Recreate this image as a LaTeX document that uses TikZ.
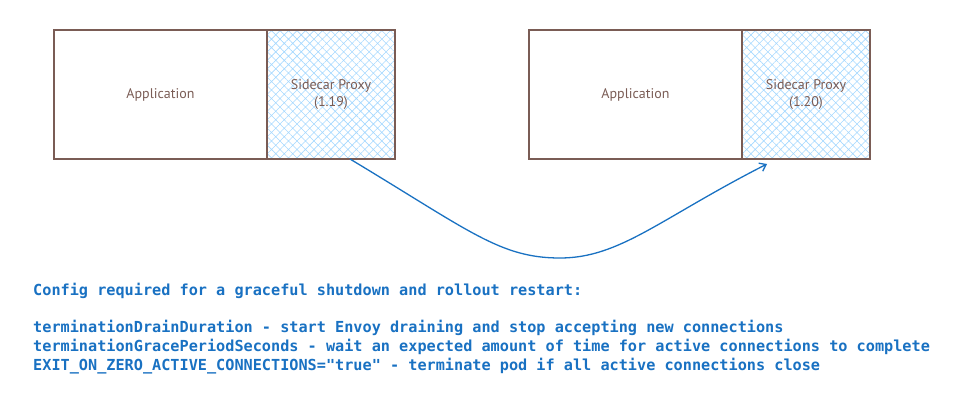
\documentclass[tikz,border=0pt]{standalone}
\usepackage{fontspec}
\setmainfont{PT Sans}
\newfontfamily\codefont{DejaVu Sans Mono}
\usetikzlibrary{positioning,patterns.meta,arrows.meta}
\definecolor{boxbrown}{HTML}{7A5C55}
\definecolor{hatchblue}{HTML}{A5D8FF}
\definecolor{codeblue}{HTML}{1971C2}
\tikzset{
  podbox/.style={draw=boxbrown, line width=1.2pt, outer sep=0pt, text=boxbrown,
    font=\fontsize{14}{17}\selectfont, align=center, minimum height=129pt},
  appbox/.style={podbox, minimum width=213pt},
  proxybox/.style={podbox, minimum width=128pt,
    pattern={Hatch[angle=45,distance=6pt,line width=0.6pt]}, pattern color=hatchblue},
  upgrade/.style={draw=codeblue, line width=1.3pt, -{Straight Barb[length=6pt,width=9pt]}}
}
\begin{document}
\begin{tikzpicture}[x=1pt,y=-1pt]
% Fix the page to the size of the reference
\useasboundingbox (0,0) rectangle (953,404);
% Old pod: application with the 1.19 sidecar
\node[appbox] (app1) at (160.5,94.5) {Application};
\node[proxybox, right=0pt of app1] (proxy1) {Sidecar Proxy\\(1.19)};
% New pod: application with the 1.20 sidecar
\node[appbox] (app2) at (635.5,94.5) {Application};
\node[proxybox, right=0pt of app2] (proxy2) {Sidecar Proxy\\(1.20)};
% Draw the rollout arrow from the old proxy to the new one
\coordinate (dip) at (560,258);
\draw[upgrade] ([xshift=19pt]proxy1.south)
  .. controls +(31:140) and +(180:60) .. (dip)
  .. controls +(0:60) and +(153:120) .. ([xshift=25pt,yshift=-5pt]proxy2.south west);
% Write the config notes below
\node[anchor=north west, align=left, text=codeblue, inner sep=0pt,
  font=\codefont\bfseries\fontsize{15.2}{19}\selectfont] (config) at (33,283)
  {Config required for a graceful shutdown and rollout restart:\\[18pt]
   terminationDrainDuration - start Envoy draining and stop accepting new connections\\
   terminationGracePeriodSeconds - wait an expected amount of time for active connections to complete\\
   EXIT\_ON\_ZERO\_ACTIVE\_CONNECTIONS="true" - terminate pod if all active connections close};
\end{tikzpicture}
\end{document}
